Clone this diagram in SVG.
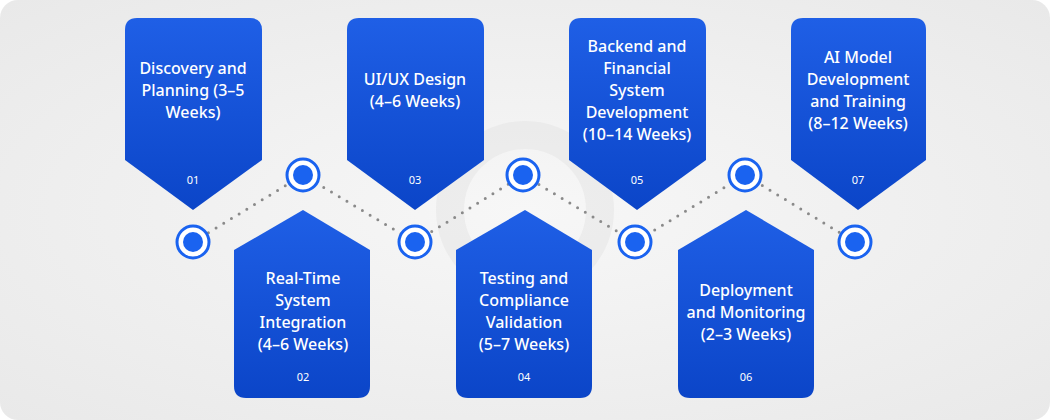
<svg xmlns="http://www.w3.org/2000/svg" width="1050" height="420" viewBox="0 0 1050 420">
<defs>
<linearGradient id="g" x1="0" y1="0" x2="0" y2="1"><stop offset="0" stop-color="#1f5fe6"/><stop offset="1" stop-color="#0b45c8"/></linearGradient>
<radialGradient id="bg" cx="0.5" cy="0.5" r="0.7"><stop offset="0" stop-color="#f7f7f7"/><stop offset="1" stop-color="#e9e9e9"/></radialGradient>
<style>
.c{fill:url(#g)}
.t{font-family:"Noto Sans","Liberation Sans",sans-serif;font-size:16px;fill:#fff;text-anchor:middle;font-weight:500}
.n{font-family:"Noto Sans","Liberation Sans",sans-serif;font-size:11px;fill:#fff;text-anchor:middle}
.dot{stroke:#8a8a8a;stroke-width:3;stroke-linecap:round;stroke-dasharray:0 9;fill:none}
.ro{fill:#fff;stroke:#1a63f0;stroke-width:3}
.ri{fill:#1a63f0}
</style>
</defs>
<rect width="1050" height="420" rx="18" fill="url(#bg)"/>
<circle cx="525" cy="210" r="75" fill="none" stroke="#e4e4e4" stroke-width="28" opacity="0.5"/>
<g id="connectors">
<polyline class="dot" points="193,242 303,175 415,242 523,175 635,242 745,175 855,242"/>
</g>
<g id="n1"><path class="c" d="M137,18 H250 Q262,18 262,30 V160 L193,210 L125,160 V30 Q125,18 137,18Z"/><text class="t" x="193" y="74">Discovery and</text><text class="t" x="193" y="96">Planning (3–5</text><text class="t" x="193" y="118">Weeks)</text><text class="n" x="193" y="184">01</text></g>
<g id="n2"><path class="c" d="M303,210 L370,250 V386 Q370,398 358,398 H246 Q234,398 234,386 V250Z"/><text class="t" x="303" y="284">Real-Time</text><text class="t" x="303" y="306">System</text><text class="t" x="303" y="328">Integration</text><text class="t" x="303" y="350">(4–6 Weeks)</text><text class="n" x="303" y="381">02</text></g>
<g id="n3"><path class="c" d="M359,18 H472 Q484,18 484,30 V160 L415,210 L347,160 V30 Q347,18 359,18Z"/><text class="t" x="415" y="85">UI/UX Design</text><text class="t" x="415" y="107">(4–6 Weeks)</text><text class="n" x="415" y="184">03</text></g>
<g id="n4"><path class="c" d="M525,210 L592,250 V386 Q592,398 580,398 H468 Q456,398 456,386 V250Z"/><text class="t" x="524" y="284">Testing and</text><text class="t" x="524" y="306">Compliance</text><text class="t" x="524" y="328">Validation</text><text class="t" x="524" y="350">(5–7 Weeks)</text><text class="n" x="524" y="381">04</text></g>
<g id="n5"><path class="c" d="M581,18 H694 Q706,18 706,30 V160 L637,210 L569,160 V30 Q569,18 581,18Z"/><text class="t" x="637" y="52">Backend and</text><text class="t" x="637" y="74">Financial</text><text class="t" x="637" y="96">System</text><text class="t" x="637" y="118">Development</text><text class="t" x="637" y="140">(10–14 Weeks)</text><text class="n" x="637" y="184">05</text></g>
<g id="n6"><path class="c" d="M746,210 L814,250 V386 Q814,398 802,398 H690 Q678,398 678,386 V250Z"/><text class="t" x="746" y="296">Deployment</text><text class="t" x="746" y="318">and Monitoring</text><text class="t" x="746" y="340">(2–3 Weeks)</text><text class="n" x="746" y="381">06</text></g>
<g id="n7"><path class="c" d="M803,18 H914 Q926,18 926,30 V160 L858,210 L791,160 V30 Q791,18 803,18Z"/><text class="t" x="858" y="63">AI Model</text><text class="t" x="858" y="85">Development</text><text class="t" x="858" y="107">and Training</text><text class="t" x="858" y="129">(8–12 Weeks)</text><text class="n" x="858" y="184">07</text></g>
<g id="markers">
<g><circle class="ro" cx="193" cy="242" r="16"/><circle class="ri" cx="193" cy="242" r="10"/></g>
<g><circle class="ro" cx="303" cy="175" r="16"/><circle class="ri" cx="303" cy="175" r="10"/></g>
<g><circle class="ro" cx="415" cy="242" r="16"/><circle class="ri" cx="415" cy="242" r="10"/></g>
<g><circle class="ro" cx="523" cy="175" r="16"/><circle class="ri" cx="523" cy="175" r="10"/></g>
<g><circle class="ro" cx="635" cy="242" r="16"/><circle class="ri" cx="635" cy="242" r="10"/></g>
<g><circle class="ro" cx="745" cy="175" r="16"/><circle class="ri" cx="745" cy="175" r="10"/></g>
<g><circle class="ro" cx="855" cy="242" r="16"/><circle class="ri" cx="855" cy="242" r="10"/></g>
</g>
</svg>
